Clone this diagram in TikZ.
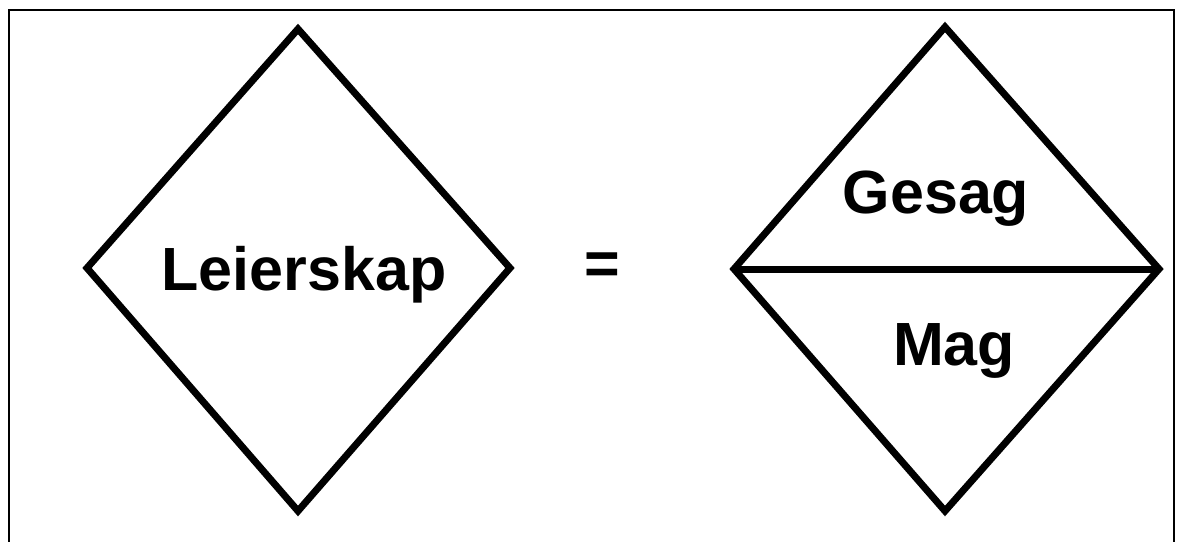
\documentclass[tikz,border=0pt]{standalone}
\usepackage{fontspec}
\setmainfont{Liberation Sans}
\usepackage{tikz}
\usetikzlibrary{calc}

\begin{document}
\begin{tikzpicture}[x=1pt, y=-1pt, line join=miter,
    rhomb/.style={line width=7pt},
    word/.style={font=\bfseries\fontsize{61}{72}\selectfont, anchor=base, inner sep=0pt}]

  \useasboundingbox (0,0) rectangle (1177,541);

  % outer frame, open at the bottom
  \draw[line width=1.5pt] (9,560) -- (9,10) -- (1174,10) -- (1174,560);

  % left rhombus
  \coordinate (lt) at (298,29);
  \coordinate (lr) at (510,268);
  \coordinate (lb) at (298,511);
  \coordinate (ll) at (87,268);
  \draw[rhomb] (lt) -- (lr) -- (lb) -- (ll) -- cycle;

  \node[word] (lead) at (304,290) {Leierskap};

  \node[word] (equals) at (602,284) {=};

  % right rhombus, split in two halves
  \coordinate (rt) at (945,27);
  \coordinate (rr) at (1159,269);
  \coordinate (rb) at (945,511);
  \coordinate (rl) at (734,269);
  \draw[rhomb] (rt) -- (rr) -- (rb) -- (rl) -- cycle;
  \draw[rhomb] (rl) -- (rr);

  \node[word] (auth) at (936,213) {Gesag};
  \node[word] (power) at (954,365) {Mag};

\end{tikzpicture}
\end{document}
